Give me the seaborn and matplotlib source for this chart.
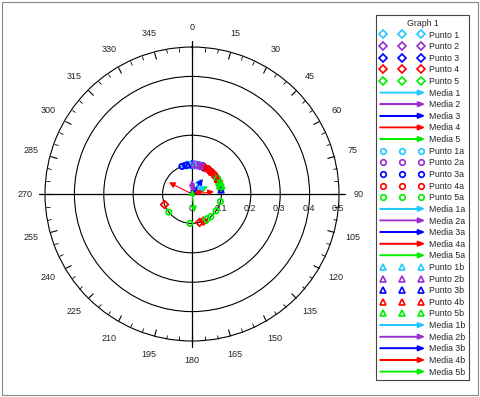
import numpy as np
import pandas as pd
import matplotlib
matplotlib.use('Agg')
import matplotlib.pyplot as plt
import matplotlib.patches as mpatches
import matplotlib.transforms as mtransforms
from matplotlib.lines import Line2D
from matplotlib.legend_handler import HandlerPatch
import seaborn as sns

# Configuración
sns.set_style('white')
plt.rcParams['font.family'] = ['Liberation Sans', 'DejaVu Sans']

# === Datos (ángulo en grados, radio) ===
colores = ['#22c8ff', '#9a2fd0', '#0000ff', '#ff0000', '#00ee00']
grupos = ['', 'a', 'b']
marcadores = {'': 'D', 'a': 'o', 'b': '^'}

# Puntos: ángulos (grados) para cada serie, todos sobre r = 0.1
puntos_ang = {
    'Punto 1': [350, 0, 10, 20],
    'Punto 2': [5, 15, 25],
    'Punto 3': [0, 22, 35],
    'Punto 4': [25, 35, 45, 55, 65, 157, 165, 249],
    'Punto 5': [55, 63, 72, 78, 150],
    'Punto 1a': [345, 355],
    'Punto 2a': [10, 20],
    'Punto 3a': [340, 348],
    'Punto 4a': [30, 40, 50],
    'Punto 5a': [60, 70, 80, 105, 125, 140, 184, 232],
    'Punto 1b': [356, 5],
    'Punto 2b': [2, 15],
    'Punto 3b': [352, 82],
    'Punto 4b': [42, 60],
    'Punto 5b': [68, 75],
}
radio_puntos = 0.1

# Medias: (ángulo, longitud)
medias_ang = [30, 10, 36, 84, 65, 55, 0, 40, 297, 172, 60, 20, 45, 75, 247]
medias_len = [0.06, 0.04, 0.063, 0.075, 0.06, 0.05, 0.048, 0.03, 0.088, 0.063,
              0.055, 0.03, 0.02, 0.04, 0.015]

anillos = [0.1, 0.2, 0.3, 0.4, 0.5]
etiquetas_r = ['0', '0.1', '0.2', '0.3', '0.4', '0.5']
angulos_tick = list(range(0, 360, 15))

# === Figura ===
fig = plt.figure(figsize=(4.8, 3.97), dpi=100)
ax = fig.add_axes([0.09375, 0.141, 0.6125, 0.7406], projection='polar')
ax.set_theta_zero_location('N')
ax.set_theta_direction(-1)
ax.set_ylim(0, 0.5)

ax.set_yticks(anillos[:-1])
ax.set_yticklabels([])
ax.yaxis.grid(True, color='black', lw=0.8)
ax.xaxis.grid(False)
ax.spines['polar'].set_color('black')
ax.spines['polar'].set_linewidth(0.8)

ax.set_xticks(np.deg2rad(angulos_tick))
ax.set_xticklabels([str(a) for a in angulos_tick], fontsize=6.5, color='#222222')
ax.set_xticks(np.deg2rad(np.arange(0, 360, 5)), minor=True)
ax.tick_params(axis='x', which='both', bottom=False, top=True, direction='in', color='black')
ax.tick_params(axis='x', which='major', length=5, width=0.8, pad=7)
ax.tick_params(axis='x', which='minor', length=3, width=0.6)
ax.tick_params(axis='y', length=0)

# Ejes cruzados
for a in [0, 90, 180, 270]:
    ax.plot([np.deg2rad(a)] * 2, [0, 0.52], color='black', lw=0.9, clip_on=False, zorder=1)

# Etiquetas radiales
trans = mtransforms.offset_copy(ax.transData, fig=fig, x=-1, y=-10, units='dots')
for val, txt in zip([0] + anillos, etiquetas_r):
    ax.text(np.pi / 2, val, txt, transform=trans, ha='center', va='top',
            fontsize=6.5, color='#222222')

# Puntos
filas = []
for nombre, angs in puntos_ang.items():
    for a in angs:
        filas.append({'serie': nombre, 'theta': np.deg2rad(a), 'r': radio_puntos})
df = pd.DataFrame(filas)

for g in grupos:
    for i in range(1, 6):
        nombre = 'Punto %d%s' % (i, g)
        sub = df[df['serie'] == nombre]
        sns.scatterplot(data=sub, x='theta', y='r', ax=ax, marker=marcadores[g], s=15,
                        facecolor='none', edgecolor=colores[i - 1], linewidth=1.3,
                        legend=False, zorder=3)

# Medias (flechas)
for k, (a, l) in enumerate(zip(medias_ang, medias_len)):
    ax.annotate('', xy=(np.deg2rad(a), l), xytext=(0, 0),
                arrowprops=dict(arrowstyle='-|>', color=colores[k % 5], lw=0.8,
                                mutation_scale=9, shrinkA=0, shrinkB=0), zorder=4)
ax.set_xlabel('')
ax.set_ylabel('')

# === Leyenda ===
def flecha(legend, orig_handle, xdescent, ydescent, width, height, fontsize):
    return mpatches.FancyArrow(0, height / 2, width, 0, width=0.25, head_width=3.5,
                               head_length=4.5, length_includes_head=True)

handles, labels = [], []
for g in grupos:
    for i in range(1, 6):
        handles.append(Line2D([], [], linestyle='none', marker=marcadores[g], markersize=4,
                              markerfacecolor='none', markeredgecolor=colores[i - 1],
                              markeredgewidth=1.2))
        labels.append('Punto %d%s' % (i, g))
    for i in range(1, 6):
        handles.append(mpatches.FancyArrow(0, 0, 1, 0, color=colores[i - 1]))
        labels.append('Media %d%s' % (i, g))

leg = fig.legend(handles, labels, loc='upper left', bbox_to_anchor=(372 / 480, 1 - 11 / 397),
                 title='Graph 1', fontsize=6.3, title_fontsize=6.3, numpoints=3,
                 handlelength=5, labelspacing=0.3, handletextpad=0.6, borderpad=0.4,
                 fancybox=False, edgecolor='#444444', framealpha=1,
                 handler_map={mpatches.FancyArrow: HandlerPatch(patch_func=flecha)})
leg.get_frame().set_linewidth(0.8)

# Marco de la figura
fig.patches.append(mpatches.Rectangle((0.004, 0.004), 0.992, 0.992, transform=fig.transFigure,
                                      fill=False, edgecolor='#888888', lw=0.8))

fig.savefig('out.png', dpi=100)
